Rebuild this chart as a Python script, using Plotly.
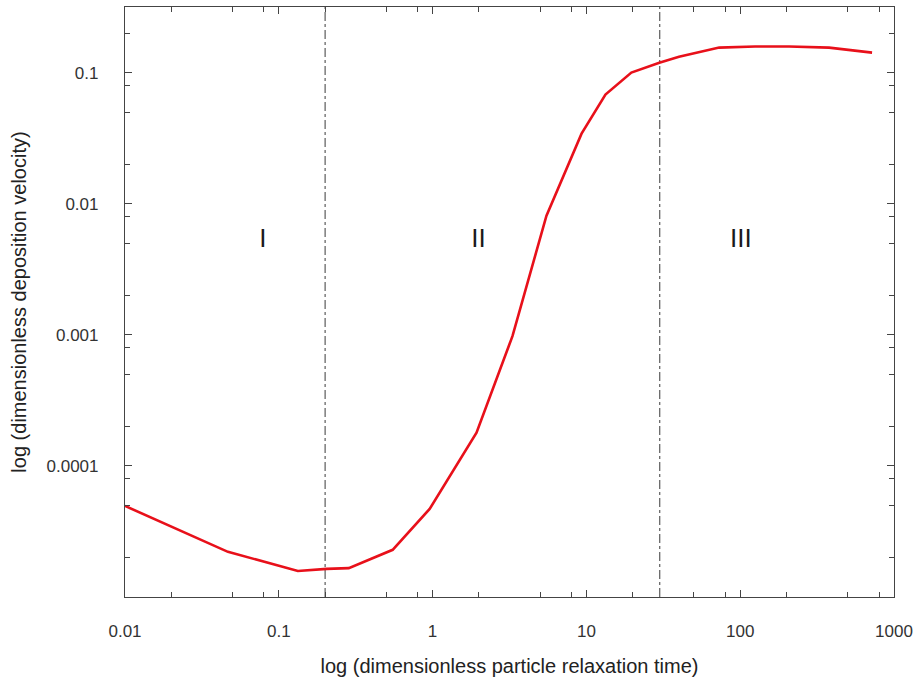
import plotly.graph_objects as go

# Data
tau = [0.01, 0.0467, 0.133, 0.205, 0.285, 0.55, 0.957, 1.93, 3.31, 5.5,
       9.3, 13.3, 19.6, 29.8, 40, 73, 125, 208, 378, 720]
vdep = [4.95e-5, 2.21e-5, 1.58e-5, 1.64e-5, 1.66e-5, 2.29e-5, 4.7e-5, 1.79e-4,
        9.8e-4, 8.1e-3, 0.0342, 0.068, 0.1, 0.119, 0.132, 0.155, 0.158, 0.158,
        0.155, 0.142]

region_bounds = [0.2, 30]
region_labels = ["I", "II", "III"]
region_label_x = [0.0787, 1.99, 101]
region_label_y = [0.00523, 0.00523, 0.00523]

x_major = [0.01, 0.1, 1, 10, 100, 1000]
x_major_text = ["0.01", "0.1", "1", "10", "100", "1000"]
y_major = [0.0001, 0.001, 0.01, 0.1]
y_major_text = ["0.0001", "0.001", "0.01", "0.1"]
minor_mult = [2, 5, 8]
x_minor = [m * d for d in [0.01, 0.1, 1, 10, 100] for m in minor_mult]
y_minor = [m * d for d in [1e-5, 1e-4, 1e-3, 1e-2, 1e-1] for m in minor_mult]

y_lo, y_hi = 1e-5, 10 ** -0.5

fig = go.Figure()

for xb in region_bounds:
    fig.add_trace(go.Scatter(
        x=[xb, xb], y=[y_lo, y_hi], mode="lines",
        line=dict(color="#3a3a3a", width=1, dash="dashdot"),
        hoverinfo="skip", showlegend=False))

fig.add_trace(go.Scatter(
    x=tau, y=vdep, mode="lines",
    line=dict(color="#e8101a", width=2.6),
    showlegend=False))

fig.add_trace(go.Scatter(
    x=region_label_x, y=region_label_y, mode="text",
    text=region_labels,
    textfont=dict(family="Liberation Sans", size=26, color="#1a1a1a"),
    hoverinfo="skip", showlegend=False))

axis_common = dict(
    type="log",
    showgrid=False,
    zeroline=False,
    showline=True,
    linecolor="#444444",
    linewidth=1.2,
    mirror="allticks",
    ticks="inside",
    ticklen=7,
    tickwidth=1,
    tickcolor="#444444",
    tickfont=dict(family="Liberation Sans", size=17, color="#333333"),
)

fig.update_xaxes(
    **axis_common,
    range=[-2, 3],
    tickmode="array", tickvals=x_major, ticktext=x_major_text,
    minor=dict(tickmode="array", tickvals=x_minor, ticks="inside",
               ticklen=5, tickcolor="#444444", showgrid=False),
    ticklabelstandoff=18,
    title=dict(text="log (dimensionless particle relaxation time)",
               font=dict(family="Liberation Sans", size=20, color="#222222"),
               standoff=19),
)
fig.update_yaxes(
    **axis_common,
    range=[-5, -0.5],
    tickmode="array", tickvals=y_major, ticktext=y_major_text,
    minor=dict(tickmode="array", tickvals=y_minor, ticks="inside",
               ticklen=5, tickcolor="#444444", showgrid=False),
    ticklabelstandoff=22,
    title=dict(text="log (dimensionless deposition velocity)",
               font=dict(family="Liberation Sans", size=20, color="#222222"),
               standoff=14),
)

fig.update_layout(
    width=919, height=680,
    margin=dict(l=125, r=22, t=6, b=83),
    paper_bgcolor="white",
    plot_bgcolor="white",
    showlegend=False,
)

fig.write_html(
    "out.html",
    config={"displayModeBar": False},
    post_script="document.body.style.margin='0';document.body.style.overflow='hidden';",
)
